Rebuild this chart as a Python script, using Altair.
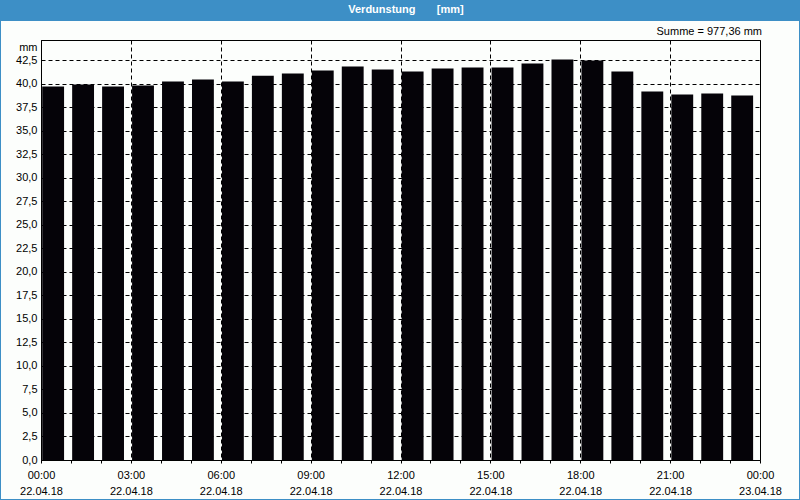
import altair as alt
import pandas as pd

# ---- data ----
hours = list(range(24))
values = [39.71, 39.92, 39.71, 39.82, 40.24, 40.45, 40.24, 40.87, 41.09, 41.41,
          41.83, 41.51, 41.31, 41.62, 41.73, 41.73, 42.16, 42.58, 42.47, 41.31,
          39.18, 38.86, 38.97, 38.76]
time_labels = ["00:00", "03:00", "06:00", "09:00", "12:00", "15:00", "18:00", "21:00", "00:00"]
date_labels = ["22.04.18"] * 8 + ["23.04.18"]
y_ticks = [i * 2.5 for i in range(18)]
title_text = "Verdunstung\u00a0\u00a0\u00a0\u00a0\u00a0\u00a0\u00a0[mm]"
sum_text = "Summe = 977,36 mm"

df = pd.DataFrame({"h": hours, "v": values})

FONT = "Liberation Sans"
W, H = 719, 420

tl = "[" + ",".join("'%s'" % t for t in time_labels) + "]"
dl = "[" + ",".join("'%s'" % d for d in date_labels) + "]"
label_expr = ("datum.value % 3 == 0 ? [" + tl + "[datum.value/3], " + dl + "[datum.value/3]] : ''")

xscale = alt.Scale(domain=[0, 24], nice=False, zero=False)
yscale = alt.Scale(domain=[0, 44.66], nice=False, padding=0)

bars = alt.Chart(df).transform_calculate(
    x0="datum.h + 0.04", x1="datum.h + 0.77", base="0"
).mark_rect(color="#050308").encode(
    x=alt.X("x0:Q", scale=xscale, title=None,
            axis=alt.Axis(values=list(range(25)), labelExpr=label_expr,
                          grid=True, gridColor="black", gridDash=[4, 3],
                          gridOpacity={"condition": {"test": "datum.value % 3 == 0", "value": 1}, "value": 0},
                          domainColor="black", tickColor="black", tickSize=3,
                          labelFont=FONT, labelFontSize=11, labelColor="black",
                          labelLineHeight=16, labelPadding=6, labelFlush=False,
                          labelOverlap=False)),
    x2="x1:Q",
    y=alt.Y("v:Q", scale=yscale,
            axis=alt.Axis(values=y_ticks,
                          labelExpr="replace(format(datum.value, '.1f'), '.', ',')",
                          grid=True, gridColor="black", gridDash=[4, 3],
                          domainColor="black", ticks=False, labelPadding=4,
                          labelFont=FONT, labelFontSize=11, labelColor="black",
                          title="mm", titleAngle=0, titleAlign="right", titleX=-4,
                          titleY=7, titleBaseline="middle", titleFont=FONT,
                          titleFontSize=11, titleFontWeight="normal",
                          labelOverlap=False)),
    y2="base:Q",
)

one = alt.Data(values=[{}])

title_bar = alt.Chart(one).mark_rect(color="#3d8fc6").encode(
    x=alt.value(-41), x2=alt.value(759), y=alt.value(-40), y2=alt.value(-19))
title_txt = alt.Chart(one).mark_text(
    text=title_text, color="white", font=FONT, fontSize=11, fontWeight="bold",
    align="center", baseline="middle").encode(x=alt.value(365), y=alt.value(-30))
sum_txt = alt.Chart(one).mark_text(
    text=sum_text, color="black", font=FONT, fontSize=11,
    align="right", baseline="middle").encode(x=alt.value(721), y=alt.value(-8))
left_b = alt.Chart(one).mark_rule(color="#3d8fc6", strokeWidth=1).encode(
    x=alt.value(-40.5), y=alt.value(-40), y2=alt.value(460))
right_b = alt.Chart(one).mark_rule(color="#3d8fc6", strokeWidth=1).encode(
    x=alt.value(758.5), y=alt.value(-40), y2=alt.value(460))
bottom_b = alt.Chart(one).mark_rule(color="#3d8fc6", strokeWidth=1).encode(
    x=alt.value(-41), x2=alt.value(759), y=alt.value(459.5))

chart = alt.layer(bars, title_bar, title_txt, sum_txt, left_b, right_b, bottom_b).properties(
    width=W, height=H,
    autosize=alt.AutoSizeParams(type="none"),
    padding={"left": 41, "top": 40, "right": 40, "bottom": 40},
    background="#fcfefc",
).configure_view(stroke="black", strokeWidth=1)

chart.save("out.html", embed_options={"renderer": "svg", "actions": False})
